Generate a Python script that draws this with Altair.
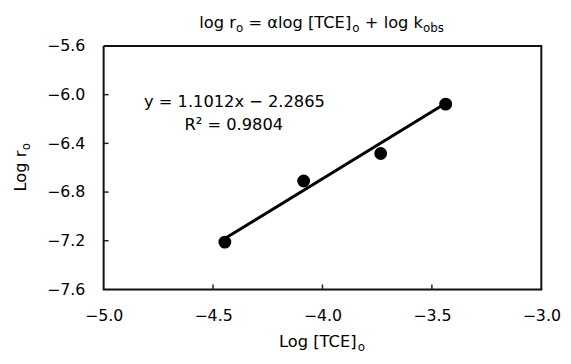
import altair as alt
import pandas as pd

# data
log_tce = [-4.446, -4.086, -3.734, -3.437]
log_r = [-7.211, -6.709, -6.483, -6.078]
fit_x = [-4.446, -3.437]
fit_y = [-7.182, -6.071]
x_ticks = [-5.0, -4.5, -4.0, -3.5, -3.0]
y_ticks = [-7.6, -7.2, -6.8, -6.4, -6.0, -5.6]
x_inner = [-4.5, -4.0, -3.5]
y_inner = [-7.2, -6.8, -6.4, -6.0]
eq_text = "y = 1.1012x − 2.2865"
r2_text = "R² = 0.9804"

FONT = "DejaVu Sans"
W, H = 444, 247

xs = alt.Scale(domain=[-5.0, -3.0], nice=False, zero=False)
ys = alt.Scale(domain=[-7.6, -5.6], nice=False, zero=False)

pts_df = pd.DataFrame({"x": log_tce, "y": log_r})
fit_df = pd.DataFrame({"x": fit_x, "y": fit_y})

xaxis = alt.Axis(values=x_ticks, format=".1f", ticks=False, grid=False, domain=False,
                 labelFont=FONT, labelFontSize=16, labelColor="black", labelPadding=18,
                 title=None, labelFlush=False)
yaxis = alt.Axis(values=y_ticks, format=".1f", ticks=False, grid=False, domain=False,
                 labelFont=FONT, labelFontSize=16, labelColor="black", labelPadding=19,
                 title=None, labelFlush=False)

frame_x = [-5.0, -3.0, -3.0, -5.0, -5.0]
frame_y = [-5.6, -5.6, -7.6, -7.6, -5.6]
frame_df = pd.DataFrame({"x": frame_x, "y": frame_y, "k": list(range(5))})
frame = alt.Chart(frame_df).mark_line(color="#111111", strokeWidth=2).encode(
    x=alt.X("x:Q", scale=xs), y=alt.Y("y:Q", scale=ys), order=alt.Order("k:Q")
)

points = alt.Chart(pts_df).mark_circle(size=170, color="black", opacity=1).encode(
    x=alt.X("x:Q", scale=xs, axis=xaxis),
    y=alt.Y("y:Q", scale=ys, axis=yaxis),
)
line = alt.Chart(fit_df).mark_line(color="black", strokeWidth=3).encode(
    x=alt.X("x:Q", scale=xs), y=alt.Y("y:Q", scale=ys)
)

xt = alt.Chart(pd.DataFrame({"x": x_inner})).mark_rule(color="#222222", strokeWidth=1.5).encode(
    x=alt.X("x:Q", scale=xs), y=alt.value(H), y2=alt.value(H - 5)
)
yt = alt.Chart(pd.DataFrame({"y": y_inner})).mark_rule(color="#222222", strokeWidth=1.5).encode(
    y=alt.Y("y:Q", scale=ys), x=alt.value(0), x2=alt.value(5)
)


def txt(s, x, y, size=16.5, angle=0):
    return alt.Chart(pd.DataFrame({"t": [s]})).mark_text(
        font=FONT, fontSize=size, color="black", align="left", baseline="alphabetic", angle=angle
    ).encode(text="t:N", x=alt.value(x), y=alt.value(y))


# title: log r_o = αlog [TCE]_o + log k_obs
x0, ty = 97, -18
title_parts = [
    txt("log r", x0, ty),
    txt("o", x0 + 37.2, ty + 4, 12),
    txt("= αlog [TCE]", x0 + 50.0, ty),
    txt("o", x0 + 155.3, ty + 4, 12),
    txt("+ log k", x0 + 168.0, ty),
    txt("obs", x0 + 227.0, ty + 4, 12),
]

# x title: Log [TCE]_o
xx0, xy = 178, 305
xtitle = [txt("Log [TCE]", xx0, xy), txt("o", xx0 + 79.9, xy + 4, 12)]

# y title: Log r_o (rotated)
yx, yy0 = -79, 147.6
ytitle = [txt("Log r", yx, yy0, angle=270), txt("o", yx + 4, yy0 - 41.8, 12, angle=270)]

annot = [txt(eq_text, 41, 62), txt(r2_text, 82, 85)]

chart = alt.layer(frame, line, points, xt, yt, *title_parts, *xtitle, *ytitle, *annot).properties(
    width=W, height=H,
    padding={"left": 97, "top": 36, "right": 22, "bottom": 65},
    autosize=alt.AutoSizeParams(type="none"),
)

chart.save("out.html", embed_options={"renderer": "svg", "actions": False})
